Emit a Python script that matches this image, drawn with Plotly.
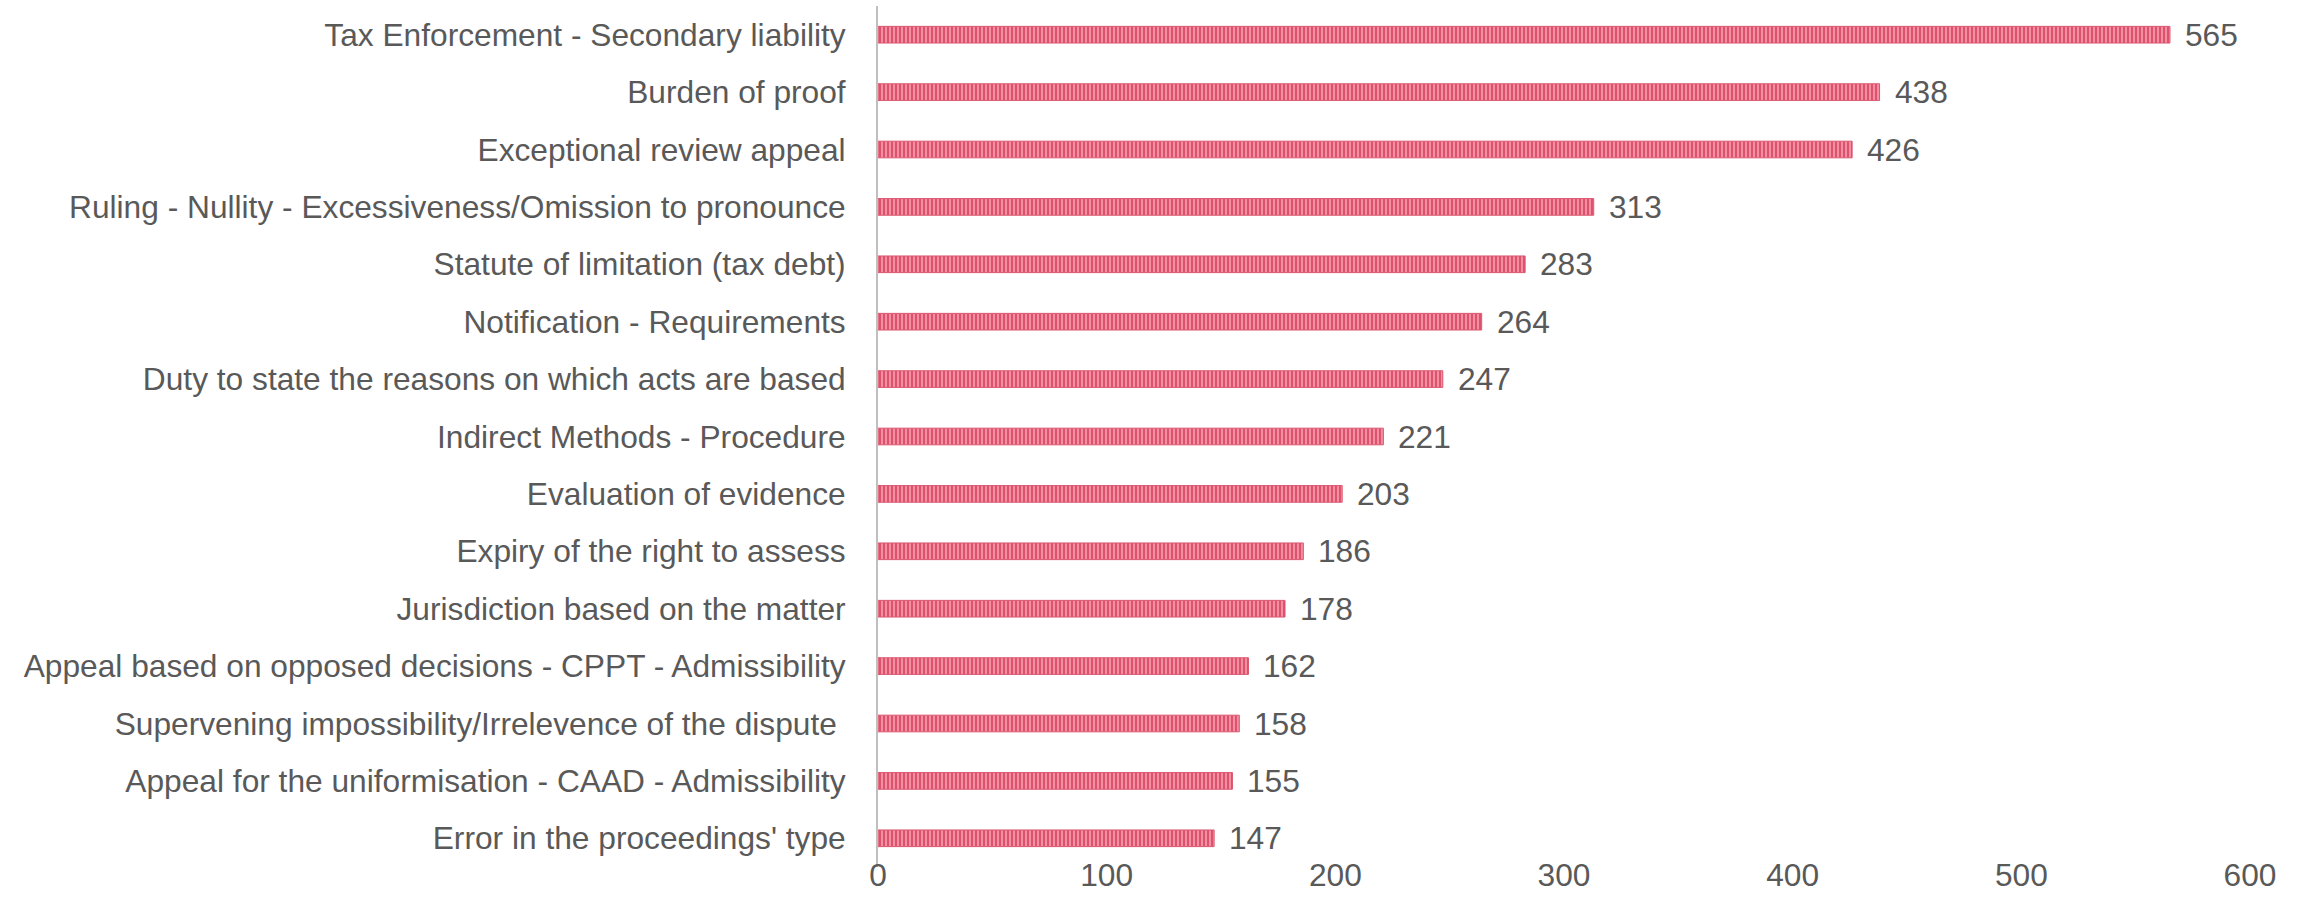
import plotly.graph_objects as go

# Most frequent subjects, ordered top to bottom
subjects = [
    "Tax Enforcement - Secondary liability",
    "Burden of proof",
    "Exceptional review appeal",
    "Ruling - Nullity - Excessiveness/Omission to pronounce",
    "Statute of limitation (tax debt)",
    "Notification - Requirements",
    "Duty to state the reasons on which acts are based",
    "Indirect Methods - Procedure",
    "Evaluation of evidence",
    "Expiry of the right to assess",
    "Jurisdiction based on the matter",
    "Appeal based on opposed decisions - CPPT - Admissibility",
    "Supervening impossibility/Irrelevence of the dispute\u00a0",
    "Appeal for the uniformisation - CAAD - Admissibility",
    "Error in the proceedings' type",
]
counts = [565, 438, 426, 313, 283, 264, 247, 221, 203, 186, 178, 162, 158, 155, 147]
x_ticks = [0, 100, 200, 300, 400, 500, 600]

FONT = "Liberation Sans, Arial, sans-serif"
TEXT_COLOR = "#595959"
FONT_SIZE = 31.7

fig = go.Figure(
    go.Bar(
        x=counts,
        y=subjects,
        orientation="h",
        width=0.29,
        marker=dict(
            color="#F48FA3",
            line=dict(color="#D9566F", width=1),
            pattern=dict(
                shape="|",
                fgcolor="#D6435F",
                bgcolor="#F48FA3",
                size=4,
                solidity=0.4,
                fillmode="replace",
            ),
        ),
        hoverinfo="x+y",
    )
)

# Value labels to the right of each bar
for s, v in zip(subjects, counts):
    fig.add_annotation(
        x=v, y=s, text=str(v), showarrow=False,
        xanchor="left", yanchor="middle", xshift=13,
        font=dict(family=FONT, size=FONT_SIZE, color=TEXT_COLOR),
    )

fig.update_layout(
    width=2298,
    height=921,
    margin=dict(l=878, r=48, t=6, b=54),
    paper_bgcolor="white",
    plot_bgcolor="white",
    showlegend=False,
    font=dict(family=FONT, size=FONT_SIZE, color=TEXT_COLOR),
    xaxis=dict(
        range=[0, 600],
        tickvals=x_ticks,
        ticktext=[str(t) for t in x_ticks],
        showgrid=False,
        zeroline=False,
        showline=False,
        ticks="",
        ticklabelstandoff=-14,
        tickfont=dict(family=FONT, size=FONT_SIZE, color=TEXT_COLOR),
    ),
    yaxis=dict(
        autorange="reversed",
        showgrid=False,
        zeroline=False,
        showline=True,
        linecolor="#BFBFBF",
        linewidth=2,
        ticks="",
        ticklabelstandoff=24,
        tickfont=dict(family=FONT, size=FONT_SIZE, color=TEXT_COLOR),
    ),
)

fig.write_html("out.html")
